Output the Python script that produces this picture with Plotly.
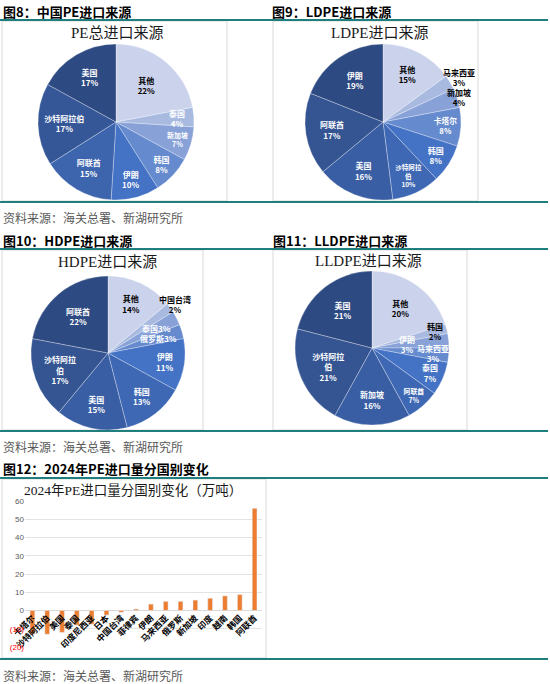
import math
import plotly.graph_objects as go

# ---- data ----
pe_labels = ['其他', '泰国', '新加坡', '韩国', '伊朗', '阿联酋', '沙特阿拉伯', '美国']
pe_values = [22, 4, 7, 8, 10, 15, 17, 17]

ldpe_labels = ['其他', '马来西亚', '新加坡', '卡塔尔', '韩国', '沙特阿拉<br>伯', '美国', '阿联酋', '伊朗']
ldpe_values = [15, 3, 4, 8, 8, 10, 16, 17, 19]

hdpe_labels = ['其他', '中国台湾', '泰国', '俄罗斯', '伊朗', '韩国', '美国', '沙特阿拉<br>伯', '阿联酋']
hdpe_values = [14, 2, 3, 3, 11, 13, 15, 17, 22]

lldpe_labels = ['其他', '韩国', '伊朗', '马来西亚', '泰国', '阿联酋', '新加坡', '沙特阿拉<br>伯', '美国']
lldpe_values = [20, 2, 3, 3, 7, 7, 16, 21, 21]

chg_countries = ['卡塔尔', '沙特阿拉伯', '美国', '泰国', '印度尼西亚', '日本', '中国台湾', '菲律宾',
                 '伊朗', '马来西亚', '俄罗斯', '新加坡', '印度', '越南', '韩国', '阿联酋']
chg_values = [-13, -13, -12, -8, -7.5, -2.5, -1, 0.8, 3.5, 5, 5, 5.7, 6.7, 8, 8.7, 56]

y_tickvals = [60, 50, 40, 30, 20, 10, 0, -10, -20]
y_ticktext = ['60', '50', '40', '30', '20', '10', '0',
              "<span style='color:#FF0000'>(10)</span>", "<span style='color:#FF0000'>(20)</span>"]

W, H = 550, 684
TEAL = '#1F7E7E'
SERIF = 'Liberation Serif, Noto Sans CJK SC, serif'
CJK = 'Noto Sans CJK SC, sans-serif'


def px(x):
    return x / W


def py(y):
    return 1 - y / H


def blend(c1, c2, t):
    a = [int(c1[i:i + 2], 16) for i in (1, 3, 5)]
    b = [int(c2[i:i + 2], 16) for i in (1, 3, 5)]
    return '#' + ''.join(f'{round(a[k] + (b[k] - a[k]) * t):02X}' for k in range(3))


def blues(n):
    """Excel-like monochromatic blue palette, light -> mid -> dark"""
    light, mid, dark = '#CBD2EB', '#4472C4', '#2E4A82'
    cols = []
    for i in range(n):
        if i <= 4:
            cols.append(blend(light, mid, i / 4))
        else:
            cols.append(blend(mid, dark, (i - 4) / max(n - 5, 1)))
    return cols


annotations = []


def make_pie(labels, values, cx, cy, r, manual=None):
    # manual: label -> (radius factor, colour, one-line?) for slices too thin for plotly's inside text
    manual = manual or {}
    tmpl = ['' if l in manual else '<b>%{label}<br>%{value}%</b>' for l in labels]
    tcol = ['#000000' if i == 0 else '#FFFFFF' for i in range(len(labels))]
    total = sum(values)
    cum = 0
    for l, v in zip(labels, values):
        if l in manual:
            rf, col, oneline = manual[l]
            ang = math.radians(90 - 360 * (cum + v / 2) / total)
            x = cx + rf * r * math.cos(ang)
            y = cy - rf * r * math.sin(ang)
            txt = f'<b>{l}{v}%</b>' if oneline else f'<b>{l}<br>{v}%</b>'
            annotations.append(dict(text=txt, x=px(x), y=py(y), xref='paper', yref='paper',
                                    xanchor='center', yanchor='middle', showarrow=False,
                                    font=dict(size=8, color=col, family=CJK)))
        cum += v
    return go.Pie(
        labels=labels, values=values, sort=False, direction='clockwise', rotation=0,
        marker=dict(colors=blues(len(labels)), line=dict(color='rgba(255,255,255,0.5)', width=0.6)),
        texttemplate=tmpl, textposition='inside', insidetextorientation='horizontal',
        textfont=dict(size=8, color=tcol, family=CJK),
        hovertemplate='%{label}: %{value}%<extra></extra>',
        domain=dict(x=[px(cx - r), px(cx + r)], y=[py(cy + r), py(cy - r)]),
        showlegend=False,
    )


fig = go.Figure()
fig.add_trace(make_pie(pe_labels, pe_values, 116, 122, 78,
                       manual={'泰国': (0.79, '#FFFFFF', False)}))
fig.add_trace(make_pie(ldpe_labels, ldpe_values, 383, 122, 78,
                       manual={'马来西亚': (1.13, '#000000', False), '新加坡': (1.03, '#000000', False)}))
fig.add_trace(make_pie(hdpe_labels, hdpe_values, 108, 353, 77,
                       manual={'中国台湾': (1.08, '#000000', False), '泰国': (0.70, '#FFFFFF', True),
                               '俄罗斯': (0.68, '#FFFFFF', True)}))
fig.add_trace(make_pie(lldpe_labels, lldpe_values, 372, 348, 77,
                       manual={'韩国': (0.84, '#000000', False), '伊朗': (0.46, '#FFFFFF', False),
                               '马来西亚': (0.80, '#FFFFFF', False)}))

# bar chart: 2024 change by country
fig.add_trace(go.Bar(
    x=chg_countries, y=chg_values, marker_color='#ED7D31', width=0.32,
    hovertemplate='%{x}: %{y}<extra></extra>', showlegend=False,
))

y_lo, y_hi = -20, 60
plot_top, plot_bot = 501, 647
zero_px = plot_top + (y_hi - 0) / (y_hi - y_lo) * (plot_bot - plot_top)

fig.update_layout(
    width=W, height=H, autosize=False,
    margin=dict(l=0, r=0, t=0, b=0, pad=0),
    paper_bgcolor='white', plot_bgcolor='white',
    font=dict(family=CJK, color='#000000'),
    xaxis=dict(domain=[px(25), px(262)], anchor='free', position=py(zero_px),
               tickangle=-45, showgrid=False, showline=False, ticks='', automargin=False,
               tickfont=dict(size=8.5, color='#000000', family=CJK, weight='bold'),
               fixedrange=True),
    yaxis=dict(domain=[py(plot_bot), py(plot_top)], range=[y_lo, y_hi], automargin=False,
               tickvals=y_tickvals, ticktext=y_ticktext,
               tickfont=dict(size=8, color='#595959', family='Liberation Sans, Arial'),
               showgrid=True, gridcolor='#E3E3E3', gridwidth=1,
               zeroline=True, zerolinecolor='#D9D9D9', zerolinewidth=1,
               showline=False, ticks='', fixedrange=True),
)

shapes = []
# chart frames
for x0, y0, x1, y1 in [(2, 21, 227, 201), (273, 21, 478, 201),
                       (2, 250, 203, 430), (273, 250, 467, 430),
                       (2, 479, 266, 658)]:
    shapes.append(dict(type='rect', xref='paper', yref='paper',
                       x0=px(x0), x1=px(x1), y0=py(y1), y1=py(y0),
                       line=dict(color='#D9D9D9', width=1), layer='below'))
# teal rules
for y in [20, 202, 249, 431, 478, 659]:
    shapes.append(dict(type='line', xref='paper', yref='paper',
                       x0=0, x1=px(548), y0=py(y), y1=py(y),
                       line=dict(color=TEAL, width=2)))
fig.update_layout(shapes=shapes)


def add_text(text, x, y, size, color='#000000', family=CJK, anchor='left'):
    annotations.append(dict(text=text, x=px(x), y=py(y), xref='paper', yref='paper',
                            xanchor=anchor, yanchor='middle', showarrow=False,
                            font=dict(size=size, color=color, family=family)))


# figure headers
add_text('<b>图8：中国PE进口来源</b>', 1, 11, 13)
add_text('<b>图9：LDPE进口来源</b>', 270, 11, 13)
add_text('<b>图10：HDPE进口来源</b>', 1, 240, 13)
add_text('<b>图11：LLDPE进口来源</b>', 271, 240, 13)
add_text('<b>图12：2024年PE进口量分国别变化</b>', 1, 468, 13)

# chart titles
add_text('PE总进口来源', 117, 33, 15, '#1a1a1a', SERIF, 'center')
add_text('LDPE进口来源', 380, 33, 15, '#1a1a1a', SERIF, 'center')
add_text('HDPE进口来源', 107, 262, 15, '#1a1a1a', SERIF, 'center')
add_text('LLDPE进口来源', 368, 261, 15, '#1a1a1a', SERIF, 'center')
add_text('2024年PE进口量分国别变化（万吨）', 133, 490, 13.5, '#1a1a1a', SERIF, 'center')

# sources
for y in [217, 446, 675]:
    add_text('资料来源：海关总署、新湖研究所', 1, y, 12, '#595959')

fig.update_layout(annotations=annotations)

# page body has a default 8px margin; drop it so the figure sits at the window's corner
fig.write_html("out.html", config={'displayModeBar': False},
               post_script="document.body.style.margin='0';")
